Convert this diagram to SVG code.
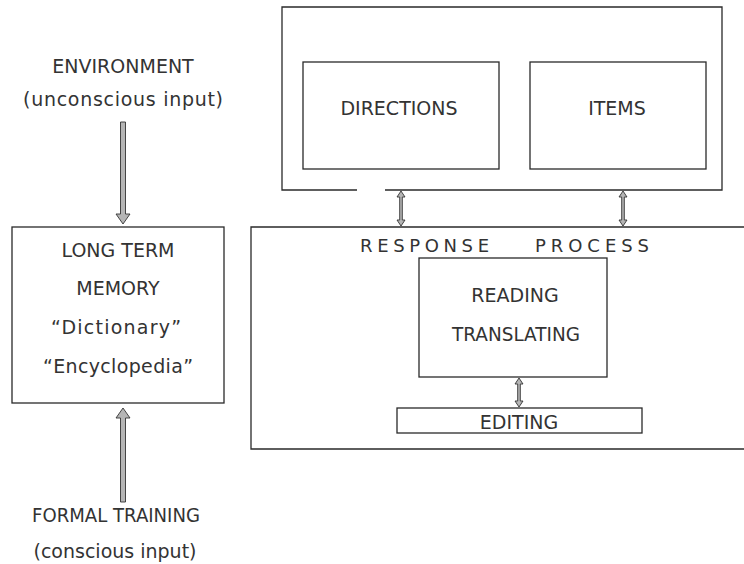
<svg xmlns="http://www.w3.org/2000/svg" width="744" height="564" viewBox="0 0 744 564">
<style>
.box{fill:none;stroke:#2a2a2a;stroke-width:1.3}
.t{font-family:"DejaVu Sans","Liberation Sans",sans-serif;font-size:19px;fill:#333;text-anchor:middle}
.ts{font-family:"DejaVu Sans","Liberation Sans",sans-serif;font-size:18px;fill:#333}
.arrow{fill:#b5b5b5;stroke:#333;stroke-width:0.9;stroke-linejoin:miter}
</style>
<rect width="744" height="564" fill="#fff"/>

<g id="environment">
<text class="t" x="123" y="73">ENVIRONMENT</text>
<text class="t" x="123" y="106" textLength="200" lengthAdjust="spacing">(unconscious input)</text>
</g>

<g id="long-term-memory">
<rect class="box" x="12" y="227" width="212" height="176"/>
<text class="t" x="118" y="257">LONG TERM</text>
<text class="t" x="118" y="295">MEMORY</text>
<text class="t" x="116" y="334" textLength="130" lengthAdjust="spacing">“Dictionary”</text>
<text class="t" x="118" y="373" textLength="150" lengthAdjust="spacing">“Encyclopedia”</text>
</g>

<g id="formal-training">
<text class="t" x="116" y="522" textLength="168" lengthAdjust="spacingAndGlyphs">FORMAL TRAINING</text>
<text class="t" x="115" y="558" textLength="163" lengthAdjust="spacing">(conscious input)</text>
</g>

<g id="materials">
<path class="box" d="M357,190 H282 V7 H722 V190 H385"/>
</g>

<g id="directions">
<rect class="box" x="303" y="62" width="196" height="107"/>
<text class="t" x="399" y="115">DIRECTIONS</text>
</g>

<g id="items">
<rect class="box" x="530" y="62" width="176" height="107"/>
<text class="t" x="617" y="115">ITEMS</text>
</g>

<g id="response-process">
<path class="box" d="M744,227 H251 V449 H744"/>
<text class="ts" x="360" y="252" textLength="129" lengthAdjust="spacing">RESPONSE</text>
<text class="ts" x="535" y="252" textLength="114" lengthAdjust="spacing">PROCESS</text>
</g>

<g id="reading-translating">
<rect class="box" x="419" y="258" width="188" height="119"/>
<text class="t" x="515" y="302">READING</text>
<text class="t" x="516" y="341" textLength="128" lengthAdjust="spacingAndGlyphs">TRANSLATING</text>
</g>

<g id="editing">
<rect class="box" x="397" y="408" width="245" height="25"/>
<text class="t" x="519" y="429">EDITING</text>
</g>

<g id="connectors">
<path class="arrow" d="M120.5,122 H125.5 V214 H130 L123,224 L116,214 H120.5 Z"/>
<path class="arrow" d="M123,408 L130,418 H125.5 V502 H120.5 V418 H116 Z"/>
<path class="arrow" d="M401,191 L405,197 H402.3 V220 H405 L401,226 L397,220 H399.7 V197 H397 Z"/>
<path class="arrow" d="M623,191 L627,197 H624.3 V220 H627 L623,226 L619,220 H621.7 V197 H619 Z"/>
<path class="arrow" d="M519,378 L523,384 H520.3 V401 H523 L519,407 L515,401 H517.7 V384 H515 Z"/>
</g>
</svg>
